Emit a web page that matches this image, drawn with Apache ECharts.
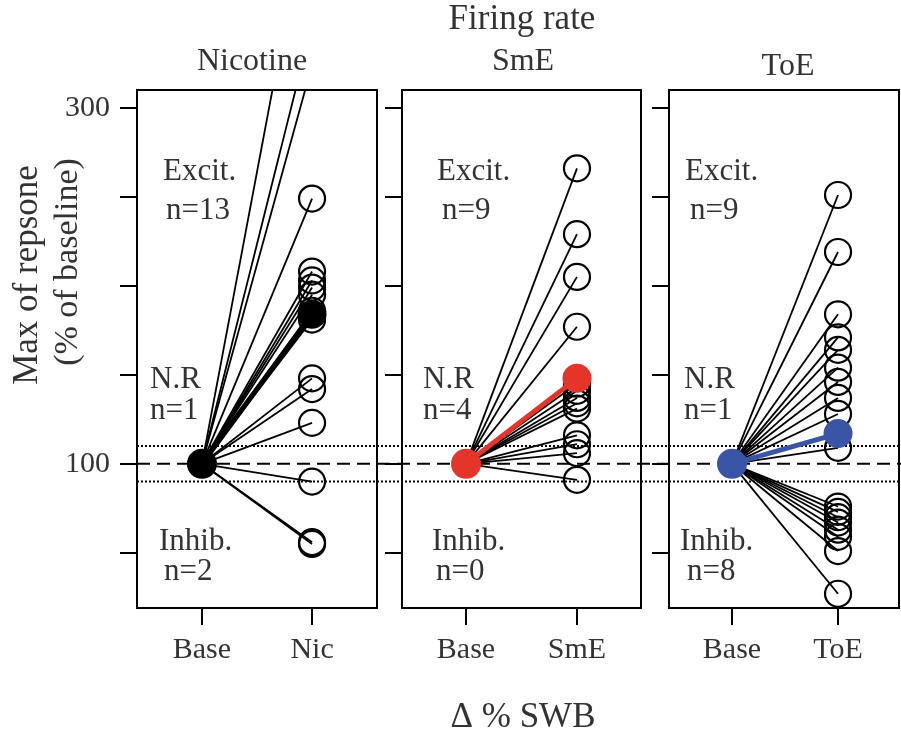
<!DOCTYPE html>
<html>
<head>
<meta charset="utf-8">
<script src="https://cdn.jsdelivr.net/npm/echarts@6/dist/echarts.min.js"></script>
<style>
  html, body { margin: 0; padding: 0; background: #fff; }
  #chart { width: 901px; height: 738px; }
</style>
</head>
<body>
<div id="chart"></div>
<script>
// ---- data ----
const baseline = 100;
const panelTitles = ['Nicotine', 'SmE', 'ToE'];
const xLabelsNic = ['Base', 'Nic'];
const xLabelsSmE = ['Base', 'SmE'];
const xLabelsToE = ['Base', 'ToE'];
const nicValues = [428, 347, 324, 249, 208, 203, 199, 195, 186, 181, 148, 142, 123, 90, 56, 55];
const nicMean = 184;
const smeValues = [266, 229, 205, 177, 145, 141, 137, 134, 131, 116, 111, 106, 91];
const smeMean = 148;
const toeValues = [251, 219, 184, 171, 164, 154, 146, 137, 128, 109, 76, 73, 70, 67, 63, 59, 51, 27];
const toeMean = 117;
const yTickValues = [50, 100, 150, 200, 250, 300];
const yLabelValues = [100, 300];
const refLines = [110, 90];
const groupLabels = [
  ['Excit.', 'n=13', 'N.R', 'n=1', 'Inhib.', 'n=2'],
  ['Excit.', 'n=9', 'N.R', 'n=4', 'Inhib.', 'n=0'],
  ['Excit.', 'n=9', 'N.R', 'n=1', 'Inhib.', 'n=8']
];

// ---- layout / style ----
const FONT = '"Liberation Serif", "DejaVu Serif", serif';
const TXT = '#333';
const panels = [
  { labels: xLabelsNic, values: nicValues, mean: nicMean, color: '#000000', left: 137, width: 240, xmin: 0.41, xmax: 2.59 },
  { labels: xLabelsSmE, values: smeValues, mean: smeMean, color: '#e5352b', left: 402, width: 239, xmin: 0.423, xmax: 2.577 },
  { labels: xLabelsToE, values: toeValues, mean: toeMean, color: '#3b55a6', left: 669, width: 230, xmin: 0.406, xmax: 2.575 }
];
const TOP = 90, HEIGHT = 518, YMIN = 19, YMAX = 310;

const grids = [], xAxes = [], yAxes = [], series = [];
panels.forEach((p, i) => {
  grids.push({ left: p.left, width: p.width, top: TOP, height: HEIGHT, show: true,
    borderColor: '#000', borderWidth: 2, backgroundColor: 'transparent' });
  xAxes.push({
    gridIndex: i, type: 'value', min: p.xmin, max: p.xmax,
    axisLine: { show: false }, splitLine: { show: false },
    axisTick: { show: true, customValues: [1, 2], length: 17, lineStyle: { color: '#000', width: 2 } },
    axisLabel: { show: true, customValues: [1, 2], margin: 27,
      formatter: v => p.labels[Math.round(v) - 1], fontFamily: FONT, fontSize: 30, color: TXT }
  });
  yAxes.push({
    gridIndex: i, type: 'value', min: YMIN, max: YMAX,
    axisLine: { show: false }, splitLine: { show: false },
    axisTick: { show: true, customValues: yTickValues, length: 17, lineStyle: { color: '#000', width: 2 } },
    axisLabel: i === 0
      ? { show: true, customValues: yLabelValues, margin: 27, fontFamily: FONT, fontSize: 30, color: TXT }
      : { show: false }
  });
  p.values.forEach(v => {
    series.push({ type: 'line', xAxisIndex: i, yAxisIndex: i, data: [[1, baseline], [2, v]],
      symbol: 'none', clip: true, silent: true, z: 3,
      lineStyle: { color: '#000', width: 1.8 } });
  });
  series.push({ type: 'scatter', xAxisIndex: i, yAxisIndex: i, clip: true, silent: true, z: 4,
    data: p.values.map(v => [2, v]), symbol: 'circle', symbolSize: 26,
    itemStyle: { color: 'rgba(255,255,255,0)', borderColor: '#000', borderWidth: 2.2, opacity: 1 } });
  series.push({ type: 'line', xAxisIndex: i, yAxisIndex: i, clip: true, silent: true, z: 5,
    data: [{ value: [1, baseline], symbol: 'none' }, { value: [2, p.mean] }],
    symbol: 'circle', symbolSize: 29, showSymbol: true,
    itemStyle: { color: p.color, borderWidth: 0, opacity: 1 },
    lineStyle: { color: p.color, width: 5 } });
  series.push({ type: 'scatter', xAxisIndex: i, yAxisIndex: i, silent: true, z: 6,
    data: [[1, baseline]], symbol: 'circle', symbolSize: 30,
    itemStyle: { color: p.color, opacity: 1 } });
});

// overlay grid for the reference lines spanning all panels
grids.push({ left: 137, right: 0, top: TOP, height: HEIGHT, show: false });
xAxes.push({ gridIndex: 3, type: 'value', min: 0, max: 1, show: false });
yAxes.push({ gridIndex: 3, type: 'value', min: YMIN, max: YMAX, show: false });
series.push({ type: 'line', xAxisIndex: 3, yAxisIndex: 3, silent: true, z: 2, symbol: 'none',
  data: [[0, baseline], [1, baseline]], lineStyle: { color: '#000', width: 2, type: [13, 7] } });
refLines.forEach(r => {
  series.push({ type: 'line', xAxisIndex: 3, yAxisIndex: 3, silent: true, z: 2, symbol: 'none',
    data: [[0, r], [1, r]], lineStyle: { color: '#000', width: 2, type: [2, 2] } });
});

function txt(text, x, y, size, align, rot) {
  const o = { type: 'text', x: x, y: y, silent: true, z: 100,
    style: { text: text, font: size + 'px ' + FONT, fill: TXT,
      align: align || 'center', verticalAlign: 'middle',
      textAlign: align || 'center', textVerticalAlign: 'middle' } };
  if (rot) o.rotation = rot;
  return o;
}
const graphics = [
  txt('Firing rate', 522, 20, 35),
  txt(panelTitles[0], 252, 62, 32),
  txt(panelTitles[1], 523, 62, 32),
  txt(panelTitles[2], 788, 67, 32),
  txt('Δ % SWB', 523, 718, 35),
  txt('Max of repsone', 28, 275, 35, 'center', Math.PI / 2),
  txt('(% of baseline)', 68, 262, 34, 'center', Math.PI / 2)
];
const annX = [[163, 166, 150, 150, 159, 164], [437, 442, 423, 423, 432, 436], [685, 690, 684, 684, 680, 687]];
const annY = [172, 211, 380, 411, 542, 572];
groupLabels.forEach((g, i) => {
  g.forEach((t, j) => graphics.push(txt(t, annX[i][j], annY[j], 31, 'left')));
});

const chart = echarts.init(document.getElementById('chart'), null, { renderer: 'canvas' });
chart.setOption({
  animation: false,
  backgroundColor: '#fff',
  grid: grids,
  xAxis: xAxes,
  yAxis: yAxes,
  series: series,
  graphic: graphics
});
</script>
</body>
</html>
